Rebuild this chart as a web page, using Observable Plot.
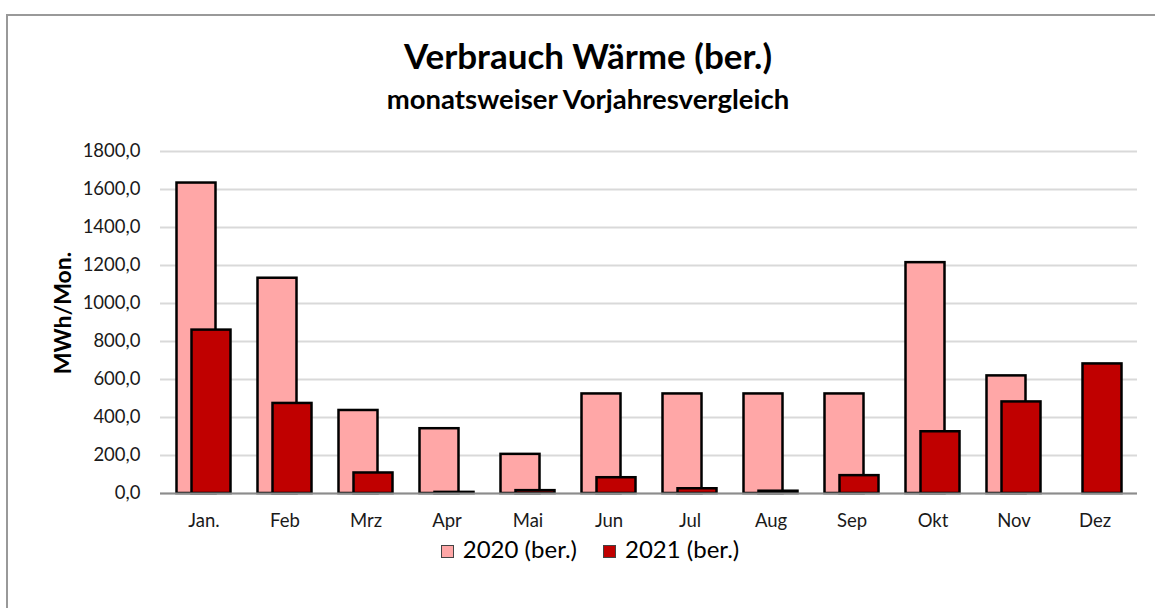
<!DOCTYPE html>
<html><head><meta charset="utf-8">
<script src="https://cdn.jsdelivr.net/npm/d3@7"></script>
<script src="https://cdn.jsdelivr.net/npm/@observablehq/plot@0.6"></script>
<style>
html,body{margin:0;padding:0;background:#fff;}
#wrap{position:relative;width:1155px;height:608px;overflow:hidden;font-family:Lato,"Open Sans",sans-serif;color:#000;}
#frame{position:absolute;left:6px;top:14px;width:1200px;height:700px;border-left:2px solid #999;border-top:2px solid #999;}
.t{position:absolute;left:0;width:1176px;text-align:center;font-weight:bold;white-space:nowrap;}
#title{top:38px;font-size:35px;line-height:35px;}
#sub{top:85px;font-size:27.5px;line-height:27.5px;}
#ylab{position:absolute;left:62px;top:313px;transform:translate(-50%,-50%) rotate(-90deg);font-weight:bold;font-size:23px;white-space:nowrap;}
#plot{position:absolute;left:0;top:130px;}
#legend{position:absolute;top:535px;left:0;width:1180px;text-align:center;font-size:24px;line-height:27px;white-space:nowrap;}
.sw{display:inline-block;width:11px;height:11px;border:1px solid #444;margin-right:9px;vertical-align:0px;}
.it{display:inline-block;margin:0 13px;}
</style></head>
<body><div id="wrap">
<div id="frame"></div>
<div class="t" id="title">Verbrauch Wärme (ber.)</div>
<div class="t" id="sub">monatsweiser Vorjahresvergleich</div>
<div id="ylab">MWh/Mon.</div>
<div id="plot"></div>
<div id="legend"></div>
</div>
<script>
const months = ["Jan.","Feb","Mrz","Apr","Mai","Jun","Jul","Aug","Sep","Okt","Nov","Dez"];
const v2020 = [1634, 1133, 437, 341, 206, 524, 524, 524, 524, 1215, 619, null];
const v2021 = [860, 474, 108, 6, 15, 83, 25, 12, 94, 325, 482, 682];
const seriesNames = ["2020 (ber.)", "2021 (ber.)"];
const seriesColors = ["#ffa7a7", "#c00000"];
const yTicks = [0,200,400,600,800,1000,1200,1400,1600,1800];

const d20 = months.map((m,i)=>({month:m, value:v2020[i]})).filter(d=>d.value!=null);
const d21 = months.map((m,i)=>({month:m, value:v2021[i]})).filter(d=>d.value!=null);
const fmt = d => d.toFixed(1).replace(".", ",");

const chart = Plot.plot({
  width: 1155, height: 408,
  marginTop: 21, marginBottom: 45, marginLeft: 160, marginRight: 18,
  style: {fontFamily: "Lato, 'Open Sans', sans-serif", fontSize: "18px", color: "#1a1a1a", background: "transparent"},
  x: {domain: months, paddingInner: 0.52, paddingOuter: 0.22},
  y: {domain: [0, 1800]},
  marks: [
    Plot.gridY(yTicks, {stroke: "#d9d9d9", strokeOpacity: 1, strokeWidth: 2}),
    Plot.axisY(yTicks, {tickSize: 0, tickPadding: 20, tickFormat: fmt, label: null, fontSize: 18.5}),
    Plot.axisX({tickSize: 0, tickPadding: 20, label: null, fontSize: 18.5}),
    Plot.barY(d20, {x: "month", y: "value", fill: seriesColors[0], stroke: "#000", strokeWidth: 2.5, dx: -7.5}),
    Plot.barY(d21, {x: "month", y: "value", fill: seriesColors[1], stroke: "#000", strokeWidth: 2.5, dx: 7.5}),
    Plot.ruleY([0], {stroke: "#8c8c8c", strokeWidth: 2})
  ]
});
document.getElementById("plot").appendChild(chart);

const leg = document.getElementById("legend");
seriesNames.forEach((n,i)=>{
  const it = document.createElement("span"); it.className="it";
  const sw = document.createElement("span"); sw.className="sw"; sw.style.background=seriesColors[i];
  it.appendChild(sw); it.appendChild(document.createTextNode(n));
  leg.appendChild(it);
});
</script>
</body></html>
